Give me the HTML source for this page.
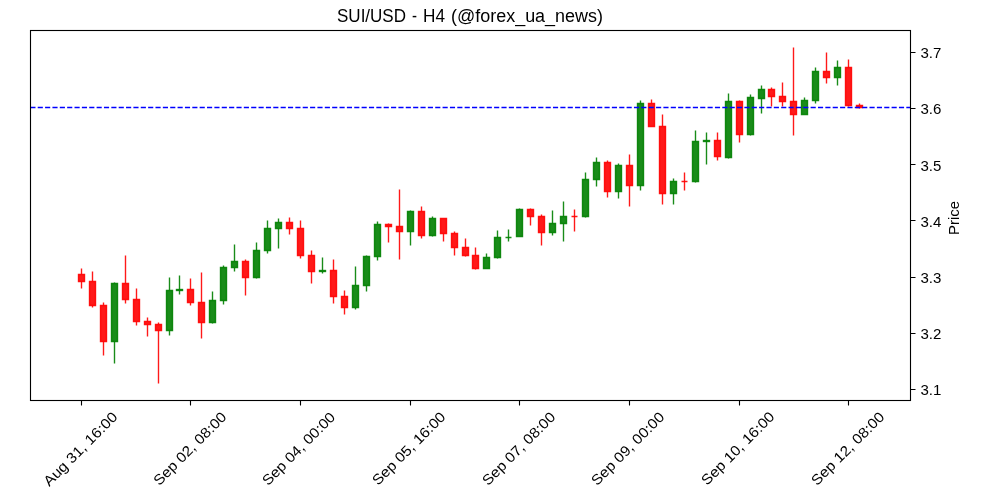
<!DOCTYPE html>
<html><head><meta charset="utf-8"><style>
html,body{margin:0;padding:0;background:#fff;}
body{width:1000px;height:500px;overflow:hidden;}
svg{display:block;font-family:"Liberation Sans",sans-serif;will-change:transform;}
</style></head><body>
<svg width="1000" height="500" viewBox="0 0 1000 500">
<rect x="0" y="0" width="1000" height="500" fill="#fff"/>
<g font-size="17.6" fill="#000"><text x="337.00" y="21.9" textLength="69.00" lengthAdjust="spacingAndGlyphs">SUI/USD</text><text x="412.00" y="21.9" textLength="5.00" lengthAdjust="spacingAndGlyphs">-</text><text x="423.00" y="21.9" textLength="22.00" lengthAdjust="spacingAndGlyphs">H4</text><text x="451.00" y="21.9" textLength="152.00" lengthAdjust="spacingAndGlyphs">(@forex_ua_news)</text></g>
<g stroke-width="1.39" fill="none">
<path stroke="rgba(255,0,0,0.9)" d="M81.5 268.5V274.5M81.5 281.5V288.5M92.5 271.5V281.5M92.5 305.5V307.5M103.5 302.5V305.5M103.5 341.5V355.5M125.5 255.5V283.5M125.5 299.5V303.5M136.5 288.5V299.5M136.5 321.5V325.5M147.5 317.5V321.5M147.5 324.5V336.5M158.5 322.5V324.5M158.5 330.5V383.5M190.5 278.5V289.5M190.5 302.5V305.5M201.5 272.5V302.5M201.5 322.5V338.5M245.5 259.5V261.5M245.5 277.5V295.5M289.5 217.5V222.5M289.5 228.5V234.5M300.5 220.5V228.5M300.5 255.5V258.5M311.5 250.5V255.5M311.5 271.5V283.5M333.5 259.5V270.5M333.5 296.5V303.5M344.5 290.5V296.5M344.5 307.5V314.5M388.5 223.5V224.5M388.5 226.5V242.5M399.5 189.5V226.5M399.5 231.5V259.5M421.5 206.5V211.5M421.5 235.5V238.5M443.5 233.5V241.5M454.5 231.5V233.5M454.5 247.5V255.5M465.5 238.5V247.5M465.5 255.5V256.5M475.5 247.5V255.5M475.5 268.5V269.5M530.5 208.5V209.5M530.5 216.5V225.5M541.5 214.5V216.5M541.5 232.5V245.5M574.5 209.5V216.5M574.5 216.5V231.5M607.5 160.5V162.5M607.5 191.5V197.5M629.5 154.5V165.5M629.5 185.5V206.5M651.5 99.5V103.5M662.5 114.5V126.5M662.5 193.5V204.5M684.5 172.5V181.5M684.5 181.5V190.5M717.5 132.5V140.5M717.5 156.5V160.5M739.5 100.5V101.5M739.5 134.5V142.5M771.5 87.5V89.5M771.5 96.5V106.5M782.5 82.5V96.5M782.5 101.5V106.5M793.5 47.5V101.5M793.5 114.5V135.5M826.5 52.5V71.5M826.5 77.5V83.5M848.5 59.5V67.5M848.5 105.5V106.5M859.5 103.5V105.5M859.5 107.5V108.5"/>
<path stroke="rgba(0,128,0,0.9)" d="M114.5 282.5V283.5M114.5 341.5V363.5M169.5 277.5V290.5M169.5 330.5V335.5M179.5 275.5V289.5M179.5 290.5V294.5M212.5 291.5V300.5M212.5 322.5V323.5M223.5 265.5V267.5M223.5 300.5V304.5M234.5 244.5V261.5M234.5 267.5V271.5M256.5 242.5V250.5M256.5 277.5V278.5M267.5 220.5V228.5M267.5 250.5V253.5M278.5 218.5V222.5M278.5 228.5V248.5M322.5 257.5V270.5M322.5 271.5V273.5M355.5 266.5V285.5M355.5 307.5V309.5M366.5 255.5V256.5M366.5 285.5V291.5M377.5 221.5V224.5M377.5 256.5V260.5M410.5 210.5V211.5M410.5 231.5V245.5M432.5 216.5V218.5M432.5 235.5V236.5M486.5 253.5V257.5M497.5 230.5V237.5M497.5 257.5V258.5M508.5 229.5V237.5M508.5 237.5V241.5M519.5 208.5V209.5M552.5 210.5V223.5M552.5 232.5V235.5M563.5 201.5V216.5M563.5 223.5V241.5M585.5 172.5V179.5M585.5 216.5V217.5M596.5 157.5V162.5M596.5 179.5V186.5M618.5 163.5V165.5M618.5 191.5V198.5M640.5 100.5V103.5M640.5 185.5V190.5M673.5 178.5V181.5M673.5 193.5V204.5M695.5 130.5V141.5M695.5 181.5V182.5M706.5 132.5V140.5M706.5 141.5V164.5M728.5 93.5V101.5M728.5 157.5V158.5M750.5 94.5V97.5M750.5 134.5V135.5M761.5 85.5V89.5M761.5 98.5V113.5M804.5 97.5V100.5M815.5 67.5V71.5M815.5 100.5V103.5M837.5 60.5V67.5M837.5 77.5V85.5"/>
</g>
<g stroke-width="1.39" fill="rgba(255,0,0,0.9)" stroke="rgba(255,0,0,0.9)"><path d="M78.5 274.5H84.5V281.5H78.5Z"/><path d="M89.5 281.5H95.5V305.5H89.5Z"/><path d="M100.5 305.5H106.5V341.5H100.5Z"/><path d="M122.5 283.5H128.5V299.5H122.5Z"/><path d="M133.5 299.5H139.5V321.5H133.5Z"/><path d="M144.5 321.5H150.5V324.5H144.5Z"/><path d="M155.5 324.5H161.5V330.5H155.5Z"/><path d="M187.5 289.5H193.5V302.5H187.5Z"/><path d="M198.5 302.5H204.5V322.5H198.5Z"/><path d="M242.5 261.5H248.5V277.5H242.5Z"/><path d="M286.5 222.5H292.5V228.5H286.5Z"/><path d="M297.5 228.5H303.5V255.5H297.5Z"/><path d="M308.5 255.5H314.5V271.5H308.5Z"/><path d="M330.5 270.5H336.5V296.5H330.5Z"/><path d="M341.5 296.5H347.5V307.5H341.5Z"/><path d="M385.5 224.5H391.5V226.5H385.5Z"/><path d="M396.5 226.5H402.5V231.5H396.5Z"/><path d="M418.5 211.5H424.5V235.5H418.5Z"/><path d="M440.5 218.5H446.5V233.5H440.5Z"/><path d="M451.5 233.5H457.5V247.5H451.5Z"/><path d="M462.5 247.5H468.5V255.5H462.5Z"/><path d="M472.5 255.5H478.5V268.5H472.5Z"/><path d="M527.5 209.5H533.5V216.5H527.5Z"/><path d="M538.5 216.5H544.5V232.5H538.5Z"/><path d="M571.5 216.5H577.5V216.5H571.5Z"/><path d="M604.5 162.5H610.5V191.5H604.5Z"/><path d="M626.5 165.5H632.5V185.5H626.5Z"/><path d="M648.5 103.5H654.5V126.5H648.5Z"/><path d="M659.5 126.5H665.5V193.5H659.5Z"/><path d="M681.5 181.5H687.5V181.5H681.5Z"/><path d="M714.5 140.5H720.5V156.5H714.5Z"/><path d="M736.5 101.5H742.5V134.5H736.5Z"/><path d="M768.5 89.5H774.5V96.5H768.5Z"/><path d="M779.5 96.5H785.5V101.5H779.5Z"/><path d="M790.5 101.5H796.5V114.5H790.5Z"/><path d="M823.5 71.5H829.5V77.5H823.5Z"/><path d="M845.5 67.5H851.5V105.5H845.5Z"/><path d="M856.5 105.5H862.5V107.5H856.5Z"/></g>
<g stroke-width="1.39" fill="rgba(0,128,0,0.9)" stroke="rgba(0,128,0,0.9)"><path d="M111.5 283.5H117.5V341.5H111.5Z"/><path d="M166.5 290.5H172.5V330.5H166.5Z"/><path d="M176.5 289.5H182.5V290.5H176.5Z"/><path d="M209.5 300.5H215.5V322.5H209.5Z"/><path d="M220.5 267.5H226.5V300.5H220.5Z"/><path d="M231.5 261.5H237.5V267.5H231.5Z"/><path d="M253.5 250.5H259.5V277.5H253.5Z"/><path d="M264.5 228.5H270.5V250.5H264.5Z"/><path d="M275.5 222.5H281.5V228.5H275.5Z"/><path d="M319.5 270.5H325.5V271.5H319.5Z"/><path d="M352.5 285.5H358.5V307.5H352.5Z"/><path d="M363.5 256.5H369.5V285.5H363.5Z"/><path d="M374.5 224.5H380.5V256.5H374.5Z"/><path d="M407.5 211.5H413.5V231.5H407.5Z"/><path d="M429.5 218.5H435.5V235.5H429.5Z"/><path d="M483.5 257.5H489.5V268.5H483.5Z"/><path d="M494.5 237.5H500.5V257.5H494.5Z"/><path d="M505.5 237.5H511.5V237.5H505.5Z"/><path d="M516.5 209.5H522.5V236.5H516.5Z"/><path d="M549.5 223.5H555.5V232.5H549.5Z"/><path d="M560.5 216.5H566.5V223.5H560.5Z"/><path d="M582.5 179.5H588.5V216.5H582.5Z"/><path d="M593.5 162.5H599.5V179.5H593.5Z"/><path d="M615.5 165.5H621.5V191.5H615.5Z"/><path d="M637.5 103.5H643.5V185.5H637.5Z"/><path d="M670.5 181.5H676.5V193.5H670.5Z"/><path d="M692.5 141.5H698.5V181.5H692.5Z"/><path d="M703.5 140.5H709.5V141.5H703.5Z"/><path d="M725.5 101.5H731.5V157.5H725.5Z"/><path d="M747.5 97.5H753.5V134.5H747.5Z"/><path d="M758.5 89.5H764.5V98.5H758.5Z"/><path d="M801.5 100.5H807.5V114.5H801.5Z"/><path d="M812.5 71.5H818.5V100.5H812.5Z"/><path d="M834.5 67.5H840.5V77.5H834.5Z"/></g>
<line x1="30.35" y1="107.5" x2="910.5" y2="107.5" stroke="#0000ff" stroke-width="1.39" stroke-dasharray="5.139 2.222"/>
<rect x="30.5" y="30.5" width="880" height="370" fill="none" stroke="#000" stroke-width="1.11"/>
<path stroke="#000" stroke-width="1.11" fill="none" d="M910.5 52.5H915.5M910.5 108.5H915.5M910.5 164.5H915.5M910.5 220.5H915.5M910.5 277.5H915.5M910.5 333.5H915.5M910.5 389.5H915.5M81.5 400.5V405.5M190.5 400.5V405.5M300.5 400.5V405.5M410.5 400.5V405.5M519.5 400.5V405.5M629.5 400.5V405.5M739.5 400.5V405.5M848.5 400.5V405.5"/>
<g font-size="14.3" fill="#000">
<text x="920.45" y="58.21" textLength="20.9" lengthAdjust="spacingAndGlyphs">3.7</text><text x="920.45" y="114.41" textLength="20.9" lengthAdjust="spacingAndGlyphs">3.6</text><text x="920.45" y="170.61" textLength="20.9" lengthAdjust="spacingAndGlyphs">3.5</text><text x="920.45" y="226.81" textLength="20.9" lengthAdjust="spacingAndGlyphs">3.4</text><text x="920.45" y="283.01" textLength="20.9" lengthAdjust="spacingAndGlyphs">3.3</text><text x="920.45" y="339.21" textLength="20.9" lengthAdjust="spacingAndGlyphs">3.2</text><text x="920.45" y="395.41" textLength="20.9" lengthAdjust="spacingAndGlyphs">3.1</text>
</g>
<g font-size="14.3" fill="#000">
<text x="83.84" y="452.41" text-anchor="middle" textLength="97.75" lengthAdjust="spacingAndGlyphs" transform="rotate(-45 83.84 452.41)">Aug 31, 16:00</text><text x="193.28" y="452.09" text-anchor="middle" textLength="96.5" lengthAdjust="spacingAndGlyphs" transform="rotate(-45 193.28 452.09)">Sep 02, 08:00</text><text x="302.06" y="452.21" text-anchor="middle" textLength="96.375" lengthAdjust="spacingAndGlyphs" transform="rotate(-45 302.06 452.21)">Sep 04, 00:00</text><text x="412.23" y="451.95" text-anchor="middle" textLength="96.625" lengthAdjust="spacingAndGlyphs" transform="rotate(-45 412.23 451.95)">Sep 05, 16:00</text><text x="522.14" y="452.09" text-anchor="middle" textLength="96.5" lengthAdjust="spacingAndGlyphs" transform="rotate(-45 522.14 452.09)">Sep 07, 08:00</text><text x="631.20" y="452.09" text-anchor="middle" textLength="96.5" lengthAdjust="spacingAndGlyphs" transform="rotate(-45 631.20 452.09)">Sep 09, 00:00</text><text x="741.27" y="451.81" text-anchor="middle" textLength="96.75" lengthAdjust="spacingAndGlyphs" transform="rotate(-45 741.27 451.81)">Sep 10, 16:00</text><text x="851.14" y="452.02" text-anchor="middle" textLength="96.625" lengthAdjust="spacingAndGlyphs" transform="rotate(-45 851.14 452.02)">Sep 12, 08:00</text>
</g>
<text x="959" y="218" font-size="14.3" text-anchor="middle" textLength="33.875" lengthAdjust="spacingAndGlyphs" transform="rotate(-90 959 218)" fill="#000">Price</text>
</svg>
</body></html>
